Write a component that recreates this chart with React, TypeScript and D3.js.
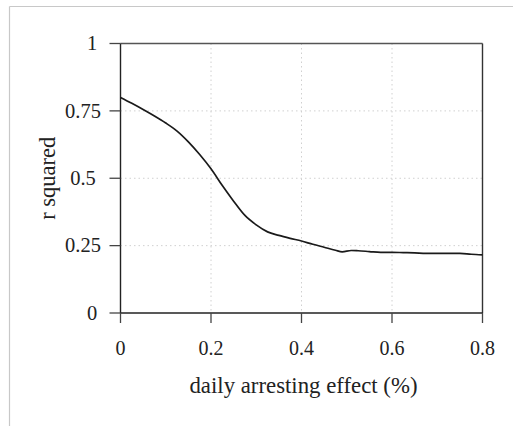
import React from "react";
import * as d3 from "d3";

const xValues = [0, 0.025, 0.05, 0.075, 0.1, 0.125, 0.15, 0.175, 0.2, 0.225, 0.25, 0.275, 0.3, 0.325, 0.35, 0.375, 0.4, 0.425, 0.45, 0.475, 0.49, 0.51, 0.525, 0.55, 0.575, 0.6, 0.625, 0.65, 0.675, 0.7, 0.725, 0.75, 0.775, 0.8];
const rSquared = [0.8, 0.778, 0.755, 0.731, 0.705, 0.675, 0.635, 0.588, 0.535, 0.473, 0.415, 0.362, 0.327, 0.301, 0.288, 0.277, 0.267, 0.255, 0.244, 0.233, 0.227, 0.232, 0.231, 0.228, 0.225, 0.225, 0.224, 0.223, 0.221, 0.221, 0.221, 0.221, 0.218, 0.216];
const xTicks = [0, 0.2, 0.4, 0.6, 0.8];
const xTickLabels = ["0", "0.2", "0.4", "0.6", "0.8"];
const yTicks = [0, 0.25, 0.5, 0.75, 1];
const yTickLabels = ["0", "0.25", "0.5", "0.75", "1"];

const W = 513, H = 426;
const L = 120.5, R = 482.5, T = 43.5, B = 313;
const FONT = "'Liberation Serif', 'Times New Roman', serif";
// y labels in the reference are centred (integers a little right of the decimals)
const yLabelCenterOffset = (s: string) => (s.includes(".") ? 37.5 : 28.5);

export default function App() {
  const x = d3.scaleLinear().domain([0, 0.8]).range([L, R]);
  const y = d3.scaleLinear().domain([0, 1]).range([B, T]);
  const line = d3.line<number>().x((_, i) => x(xValues[i])).y((d) => y(d)).curve(d3.curveMonotoneX);
  const path = line(rSquared) || "";
  return (
    <svg width={W} height={H} style={{ position: "absolute", left: 0, top: 0, background: "#fff" }}>
      {/* outer frame */}
      <line x1={9.5} x2={W} y1={6.5} y2={6.5} stroke="#c8c8c8" strokeWidth={1.2} />
      <line x1={9.5} x2={9.5} y1={6.5} y2={H} stroke="#c8c8c8" strokeWidth={1.2} />
      {/* grid */}
      {xTicks.slice(1, -1).map((t) => (
        <line key={"gx" + t} x1={x(t)} x2={x(t)} y1={T} y2={B} stroke="#d0d0d0" strokeDasharray="1.5,3" />
      ))}
      {yTicks.slice(1, -1).map((t) => (
        <line key={"gy" + t} x1={L} x2={R} y1={y(t)} y2={y(t)} stroke="#d0d0d0" strokeDasharray="1.5,3" />
      ))}
      {/* box */}
      <line x1={L} x2={R} y1={T} y2={T} stroke="#555" strokeWidth={1.4} />
      <line x1={R} x2={R} y1={T} y2={B} stroke="#333" strokeWidth={1.4} />
      <line x1={L} x2={L} y1={T} y2={B} stroke="#222" strokeWidth={1.4} />
      <line x1={L} x2={R} y1={B} y2={B} stroke="#222" strokeWidth={1.4} />
      {/* y ticks */}
      {yTicks.map((t, i) => (
        <g key={"yt" + t}>
          <line x1={L - 11} x2={L} y1={y(t)} y2={y(t)} stroke="#444" strokeWidth={1.3} />
          <text x={L - yLabelCenterOffset(yTickLabels[i])} y={y(t)} dy="0.33em" textAnchor="middle" fontFamily={FONT} fontSize={20.5} fill="#222">
            {yTickLabels[i]}
          </text>
        </g>
      ))}
      {/* x ticks */}
      {xTicks.map((t, i) => (
        <g key={"xt" + t}>
          <line x1={x(t)} x2={x(t)} y1={B} y2={B + 10} stroke="#444" strokeWidth={1.3} />
          <text x={x(t)} y={355} textAnchor="middle" fontFamily={FONT} fontSize={20} fill="#222">
            {xTickLabels[i]}
          </text>
        </g>
      ))}
      {/* curve */}
      <path d={path} fill="none" stroke="#1a1a1a" strokeWidth={1.7} />
      {/* axis titles */}
      <text x={(L + R) / 2 + 2} y={393} textAnchor="middle" fontFamily={FONT} fontSize={22.8} fill="#222">
        daily arresting effect (%)
      </text>
      <text transform={`translate(55,${(T + B) / 2}) rotate(-90)`} textAnchor="middle" fontFamily={FONT} fontSize={22.5} fill="#222">
        r squared
      </text>
    </svg>
  );
}
